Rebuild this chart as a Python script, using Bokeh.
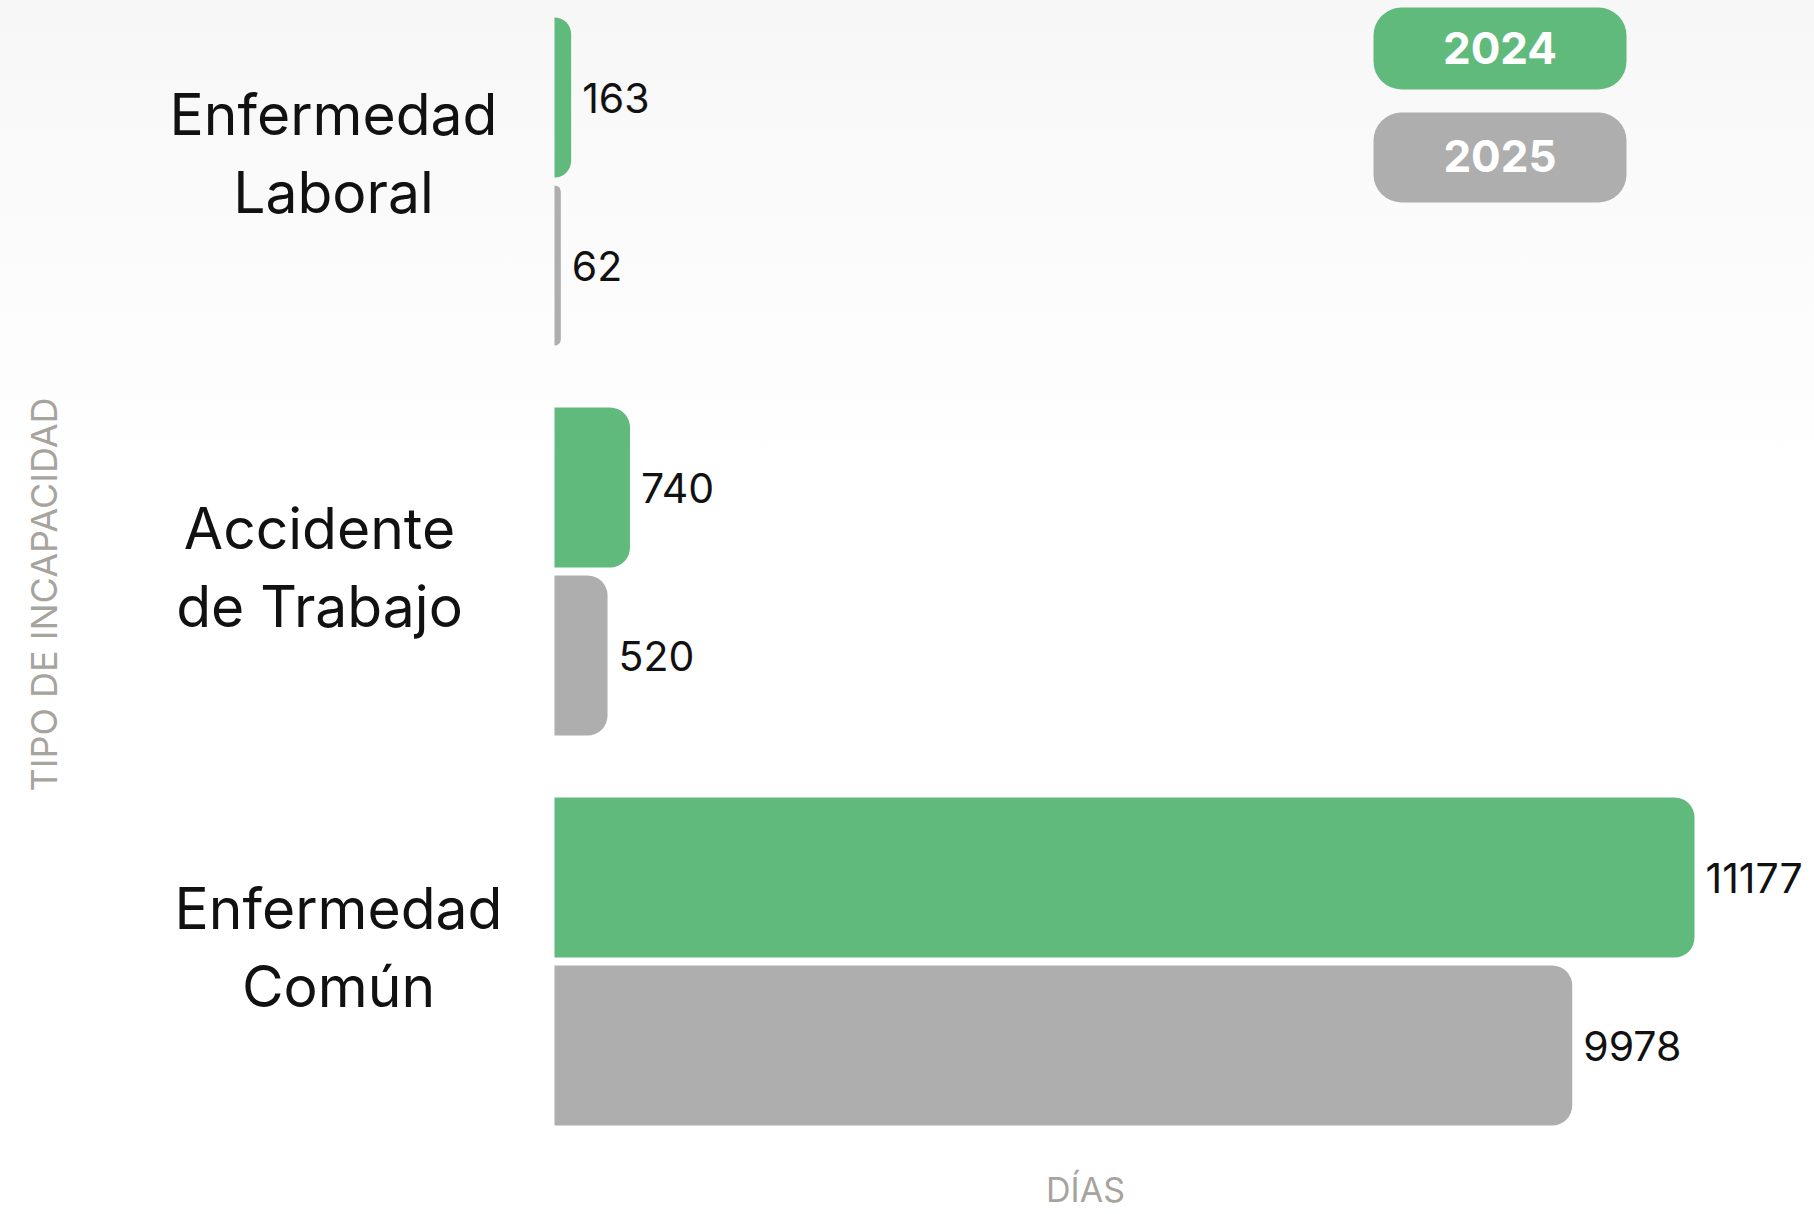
import numpy as np
from bokeh.plotting import figure
from bokeh.models import ColumnDataSource, Range1d
from bokeh.core.properties import value
from bokeh.embed import file_html
from bokeh.resources import INLINE

# ---------------- data ----------------
categories = ["Enfermedad\nLaboral", "Accidente\nde Trabajo", "Enfermedad\nComún"]
years = ["2024", "2025"]
dias_2024 = [163, 740, 11177]
dias_2025 = [62, 520, 9978]
x_title = "DÍAS"
y_title = "TIPO DE INCAPACIDAD"

# ---------------- style / layout (pixels) ----------------
colors = ["#60BA7C", "#AEAEAE"]
W, H = 1814, 1214
X0_PX = 554                 # pixel where 0 days sits
PX_PER_DAY = 1140 / 11177   # horizontal scale
CAT_TOP_PX = 181            # centre of first category
CAT_STEP_PX = 390           # distance between categories
BAR_PX = 160
BAR_OFF_PX = 84
LABEL_CX_PX = [333, 319, 338]   # horizontal centres of the category labels
LABEL_DY_PX = [-28, -4, -14]    # vertical nudges of the category labels
FONT = value("Inter")


def xpx(px):
    return (px - X0_PX) / PX_PER_DAY


def ypx(py):
    return (CAT_TOP_PX - py) / CAT_STEP_PX


p = figure(width=W, height=H, output_backend="svg", toolbar_location=None,
           x_range=Range1d(xpx(0), xpx(W)), y_range=Range1d(ypx(H), ypx(0)),
           x_axis_location=None, y_axis_location=None, min_border=0)
p.grid.visible = False
p.outline_line_color = None
p.background_fill_alpha = 0
p.border_fill_alpha = 0
p.styles = {"background": "linear-gradient(180deg, #f7f7f7 0%, #fbfbfb 20%, #ffffff 40%)"}

yc = [-i for i in range(len(categories))]
off = BAR_OFF_PX / CAT_STEP_PX
bh = BAR_PX / CAT_STEP_PX

for k, (vals, col) in enumerate(zip([dias_2024, dias_2025], colors)):
    ys = [y + off if k == 0 else y - off for y in yc]
    src = ColumnDataSource(dict(y=ys, v=vals, lab=[str(v) for v in vals]))
    p.hbar(y="y", left=0, right="v", height=bh, source=src, fill_color=col,
           line_color=None, border_radius=(0, 20, 20, 0))
    p.text(x="v", y="y", text="lab", source=src, x_offset=11,
           text_align="left", text_baseline="middle", text_font=FONT,
           text_font_size="41px", text_color="#111111")

# category labels
lab_src = ColumnDataSource(dict(
    x=[xpx(c) for c in LABEL_CX_PX], y=yc, text=categories, dy=LABEL_DY_PX))
p.text(x="x", y="y", text="text", y_offset="dy", source=lab_src,
       text_align="center", text_baseline="middle", text_font=FONT,
       text_font_size="57px", text_color="#111111", text_line_height=1.12)

# legend pills
leg_y = [ypx(48), ypx(157)]
leg_h = [82 / CAT_STEP_PX, 90 / CAT_STEP_PX]
p.hbar(y=leg_y, left=xpx(1373), right=xpx(1626), height=leg_h,
       fill_color=colors, line_color=None, border_radius=28)
p.text(x=[xpx(1499.5)] * 2, y=[ypx(47), ypx(155)], text=years,
       text_align="center", text_baseline="middle", text_font=FONT,
       text_font_style="bold", text_font_size="44px", text_color="white")

# axis titles
p.text(x=[xpx(43)], y=[ypx(594)], text=[y_title], angle=np.pi / 2,
       text_align="center", text_baseline="middle", text_font=FONT,
       text_font_size="36px", text_color="#a7a49e")
p.text(x=[xpx(1085)], y=[ypx(1189)], text=[x_title],
       text_align="center", text_baseline="middle", text_font=FONT,
       text_font_size="34px", text_color="#a7a49e")

open("out.html", "w").write(file_html(p, INLINE))
